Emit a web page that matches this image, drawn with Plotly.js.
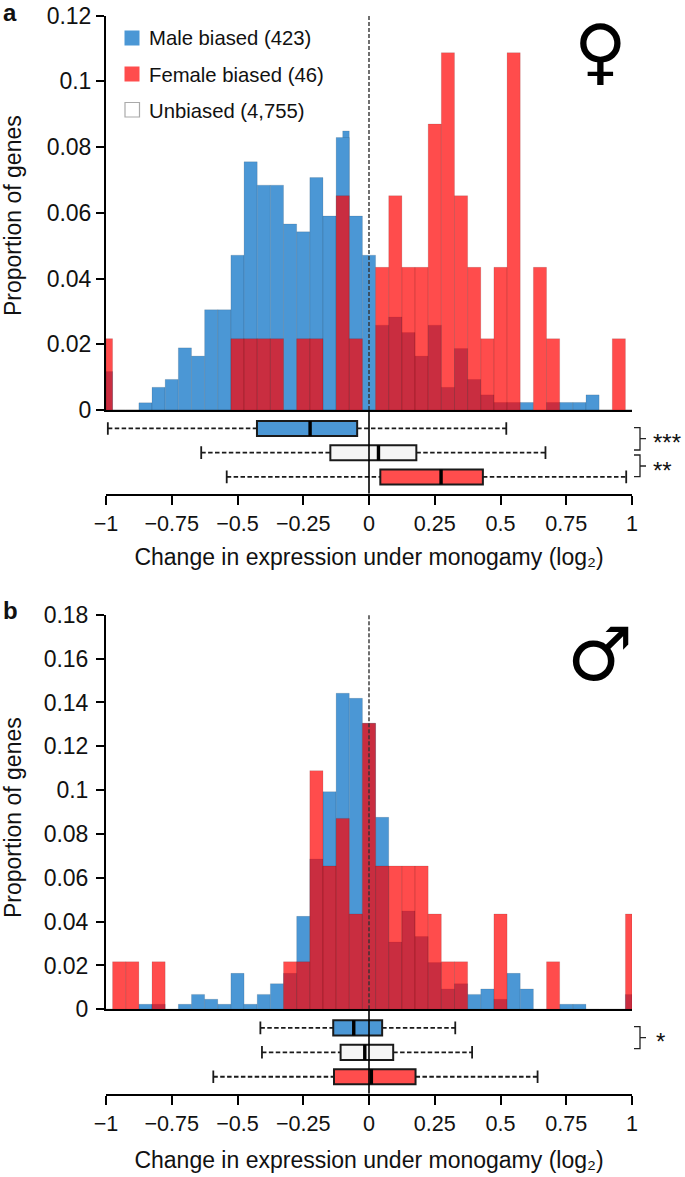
<!DOCTYPE html>
<html><head><meta charset="utf-8">
<script src="https://cdn.plot.ly/plotly-3.0.1.min.js"></script>
<style>html,body{margin:0;padding:0;background:#fff}#c{width:685px;height:1177px}</style>
</head><body><div id="c"></div>
<script>
// bins: half bin at each end, 0.05 wide elsewhere
const binCenters = [-0.9875,-0.95,-0.9,-0.85,-0.8,-0.75,-0.7,-0.65,-0.6,-0.55,-0.5,-0.45,-0.4,-0.35,-0.3,-0.25,-0.2,-0.15,-0.1,-0.05,0,0.05,0.1,0.15,0.2,0.25,0.3,0.35,0.4,0.45,0.5,0.55,0.6,0.65,0.7,0.75,0.8,0.85,0.9,0.95,0.9875];
const binWidths = [0.025,0.05,0.05,0.05,0.05,0.05,0.05,0.05,0.05,0.05,0.05,0.05,0.05,0.05,0.05,0.05,0.05,0.05,0.05,0.05,0.05,0.05,0.05,0.05,0.05,0.05,0.05,0.05,0.05,0.05,0.05,0.05,0.05,0.05,0.05,0.05,0.05,0.05,0.05,0.05,0.025];
const maleA = [0.0117,0,0,0.0022,0.0069,0.0093,0.0189,0.0164,0.0305,0.0305,0.0471,0.0755,0.0684,0.0684,0.0566,0.0542,0.0707,0.059,0.0829,0.059,0.0471,0.0258,0.0283,0.0236,0.0164,0.0258,0.0069,0.0187,0.0093,0.0046,0.0023,0.0023,0.0023,0,0.0023,0.0023,0.0023,0.0046,0,0,0];
const femaleA = [0.0217,0,0,0,0,0,0,0,0,0,0.0217,0.0217,0.0217,0.0217,0,0.0217,0.0217,0,0.0652,0.0217,0,0.0434,0.0652,0.0434,0.0434,0.087,0.1087,0.0652,0.0434,0.0217,0.0434,0.1087,0,0.0434,0.0217,0,0,0,0,0.0217,0];
const maleNotchX = [-0.0875], maleNotchW = [0.025], maleNotchY = [0.0849];
const maleB = [0,0,0,0.0023,0.0023,0,0.0023,0.0068,0.0046,0.0023,0.0164,0.0023,0.0068,0.0117,0.0164,0.0424,0.0686,0.0993,0.1442,0.1419,0.1305,0.0876,0.0307,0.0449,0.0332,0.0213,0.0093,0.0117,0.0068,0.0093,0.0046,0.0164,0.0093,0,0,0.0023,0.0023,0,0,0,0.0068];
const femaleB = [0,0.0217,0.0217,0,0.0217,0,0,0,0,0,0,0,0,0,0.0217,0.0217,0.1089,0.0654,0.0871,0.0435,0.1305,0.0654,0.0654,0.0654,0.0654,0.0435,0.0217,0.0217,0,0,0.0435,0,0,0,0.0217,0,0,0,0,0,0.0435];
// box stats: lower whisker, q1, median, q3, upper whisker
const boxAMale = [-0.993,-0.426,-0.224,-0.045,0.522];
const boxAUnb = [-0.638,-0.147,0.036,0.18,0.671];
const boxAFemale = [-0.541,0.043,0.274,0.433,0.978];
const boxBMale = [-0.413,-0.136,-0.058,0.05,0.328];
const boxBUnb = [-0.407,-0.108,-0.016,0.092,0.392];
const boxBFemale = [-0.592,-0.133,0.009,0.177,0.641];
const xTickVals = [-1,-0.75,-0.5,-0.25,0,0.25,0.5,0.75,1];
const xTickText = ['\u22121','\u22120.75','\u22120.5','\u22120.25','0','0.25','0.5','0.75','1'];
const yTicksA = [0,0.02,0.04,0.06,0.08,0.1,0.12];
const yTickTextA = ['0','0.02','0.04','0.06','0.08','0.1','0.12'];
const yTicksB = [0,0.02,0.04,0.06,0.08,0.1,0.12,0.14,0.16,0.18];
const yTickTextB = ['0','0.02','0.04','0.06','0.08','0.1','0.12','0.14','0.16','0.18'];
const legendLabels = ['Male biased (423)','Female biased (46)','Unbiased (4,755)'];
const xTitle = 'Change in expression under monogamy (log\u2082)';
const yTitle = 'Proportion of genes';

const BLUE='#4b97d5', RED='rgba(255,0,0,0.7)', REDBOX='#ff4d4d', WHITE='#f5f5f5';
const W=685,H=1177, FONT='"Liberation Sans", Arial, sans-serif', INK='#1a1a1a';
const px=v=>v/W, py=v=>1-v/H;
const xDom=[px(106),px(632)];
const edge={color:'rgba(0,0,0,0.16)',width:0.7};
function hist(x,y,color,xa,ya,width){return {type:'bar',x,y,width,xaxis:xa,yaxis:ya,marker:{color,line:edge},showlegend:false,hoverinfo:'skip'};}
const boxW=0.62;
function boxTraces(st,row,fill,xa,ya){
  const [lo,q1,med,q3,hi]=st; const lw=2;
  return [
   {type:'scatter',mode:'lines',x:[lo,q1],y:[row,row],xaxis:xa,yaxis:ya,line:{color:INK,width:1.8,dash:'4.5px,2.4px'},showlegend:false,hoverinfo:'skip'},
   {type:'scatter',mode:'lines',x:[q3,hi],y:[row,row],xaxis:xa,yaxis:ya,line:{color:INK,width:1.8,dash:'4.5px,2.4px'},showlegend:false,hoverinfo:'skip'},
   {type:'scatter',mode:'markers',x:[lo,hi],y:[row,row],xaxis:xa,yaxis:ya,marker:{symbol:'line-ns',size:9,line:{color:INK,width:1.8}},showlegend:false,hoverinfo:'skip'},
   {type:'box',orientation:'h',y:[row],q1:[q1],median:[med],q3:[q3],lowerfence:[q1],upperfence:[q3],width:boxW,xaxis:xa,yaxis:ya,fillcolor:fill,line:{color:INK,width:lw},showlegend:false,hoverinfo:'skip'},
   {type:'scatter',mode:'lines',x:[med,med],y:[row-boxW/2,row+boxW/2],xaxis:xa,yaxis:ya,line:{color:'#000',width:3.4},showlegend:false,hoverinfo:'skip'}
  ];
}
const data=[
 hist(maleNotchX,maleNotchY,BLUE,'x','y',maleNotchW),
 hist(binCenters,maleA,BLUE,'x','y',binWidths),
 hist(binCenters,femaleA,RED,'x','y',binWidths),
 ...boxTraces(boxAMale,3,BLUE,'x2','y2'),
 ...boxTraces(boxAUnb,2,WHITE,'x2','y2'),
 ...boxTraces(boxAFemale,1,REDBOX,'x2','y2'),
 hist(binCenters,maleB,BLUE,'x3','y3',binWidths),
 hist(binCenters,femaleB,RED,'x3','y3',binWidths),
 ...boxTraces(boxBMale,3,BLUE,'x4','y4'),
 ...boxTraces(boxBUnb,2,WHITE,'x4','y4'),
 ...boxTraces(boxBFemale,1,REDBOX,'x4','y4')
];
const xTickFont={family:FONT,size:21.6,color:'#111'};
const yTickFont={family:FONT,size:23,color:'#111'};
const titleFont={family:FONT,size:23,color:'#111'};
function histX(anchor){return {domain:xDom,range:[-1,1],anchor,showline:true,linecolor:'#000',linewidth:2,ticks:'',showticklabels:false,showgrid:false,zeroline:false,fixedrange:true};}
function histY(anchor,top,vals,text,lab){return {domain:top,range:[0,vals[vals.length-1]],anchor,showline:true,linecolor:'#000',linewidth:2,ticks:'outside',ticklen:8,tickwidth:2,tickcolor:'#000',tickvals:vals,ticktext:text,tickfont:yTickFont,ticklabelstandoff:lab,showgrid:false,zeroline:false,fixedrange:true};}
function boxX(anchor,st){return {domain:xDom,range:[-1,1],anchor,showline:true,linecolor:'#000',linewidth:2,ticks:'outside',ticklen:9,tickwidth:2,tickcolor:'#000',tickvals:xTickVals,ticktext:xTickText,tickfont:xTickFont,showgrid:false,zeroline:false,fixedrange:true,title:{text:xTitle,font:titleFont,standoff:st}};}
function boxY(anchor,dom){return {domain:dom,range:[0.306,3.72],anchor,visible:false,showgrid:false,zeroline:false,fixedrange:true};}
function bracket(y0,y1,ym){return {type:'path',xref:'paper',yref:'paper',path:`M ${px(634)} ${py(y0)} L ${px(640)} ${py(y0)} L ${px(640)} ${py(y1)} L ${px(634)} ${py(y1)} M ${px(640)} ${py(ym)} L ${px(646)} ${py(ym)}`,line:{color:'#222',width:1.3}};}
const shapes=[
 {type:'line',xref:'x',yref:'y',x0:0,x1:0,y0:0,y1:0.12,line:{color:'#333',width:1.4,dash:'4px,2px'},layer:'above'},
 {type:'line',xref:'x3',yref:'y3',x0:0,x1:0,y0:0,y1:0.18,line:{color:'#333',width:1.4,dash:'4px,2px'},layer:'above'},
 {type:'line',xref:'x2',yref:'y2',x0:0,x1:0,y0:0.306,y1:3.72,line:{color:'#000',width:1.6},layer:'above'},
 {type:'line',xref:'x4',yref:'y4',x0:0,x1:0,y0:0.306,y1:3.72,line:{color:'#000',width:1.6},layer:'above'},
 bracket(427.7,450,438.7),bracket(455,476.7,466),bracket(1026.7,1048.7,1037.7),
 {type:'rect',xref:'paper',yref:'paper',x0:px(124.5),x1:px(139.5),y0:py(30.5),y1:py(45.5),fillcolor:BLUE,line:{width:0}},
 {type:'rect',xref:'paper',yref:'paper',x0:px(124.5),x1:px(139.5),y0:py(66.5),y1:py(81.5),fillcolor:REDBOX,line:{width:0}},
 {type:'rect',xref:'paper',yref:'paper',x0:px(125),x1:px(139.5),y0:py(102.5),y1:py(117),fillcolor:'#fff',line:{color:'#aaa',width:1.2}}
];
function note(text,x,y,size,extra){return Object.assign({xref:'paper',yref:'paper',x:px(x),y:py(y),text,showarrow:false,xanchor:'left',yanchor:'middle',font:{family:FONT,size,color:'#111'}},extra||{});}
const annotations=[
 note(legendLabels[0],147,37.5,20.3),
 note(legendLabels[1],147,75.5,20.3),
 note(legendLabels[2],147,110.5,20.3),
 note('a',1,12,24,{font:{family:FONT,size:24,weight:'bold',color:'#111'}}),
 note('b',1,610,24,{font:{family:FONT,size:24,weight:'bold',color:'#111'}}),
 note('***',651,442,24),
 note('**',651,470,24),
 note('*',654,1041,24),
 note('\u2640',600,51,72,{xanchor:'center',font:{family:'"DejaVu Sans"',size:72,color:'#000'}}),
 note('\u2642',600,654,74,{xanchor:'center',font:{family:'"DejaVu Sans"',size:74,color:'#000'}}),
 note(yTitle,13,216,23,{xanchor:'center',textangle:-90}),
 note(yTitle,13,818,23,{xanchor:'center',textangle:-90})
];
const layout={width:W,height:H,margin:{l:0,r:0,t:0,b:0},paper_bgcolor:'#fff',plot_bgcolor:'rgba(0,0,0,0)',barmode:'overlay',boxmode:'overlay',showlegend:false,
 xaxis:histX('y'),yaxis:histY('x',[py(410),py(15.5)],yTicksA,yTickTextA,0),
 xaxis2:boxX('y2',14),yaxis2:boxY('x2',[py(493.7),py(411)]),
 xaxis3:histX('y3'),yaxis3:histY('x3',[py(1009.3),py(614.8)],yTicksB,yTickTextB,3),
 xaxis4:boxX('y4',17),yaxis4:boxY('x4',[py(1093.7),py(1010.3)]),
 shapes,annotations};
Plotly.newPlot('c',data,layout,{staticPlot:true,displayModeBar:false});
</script></body></html>
